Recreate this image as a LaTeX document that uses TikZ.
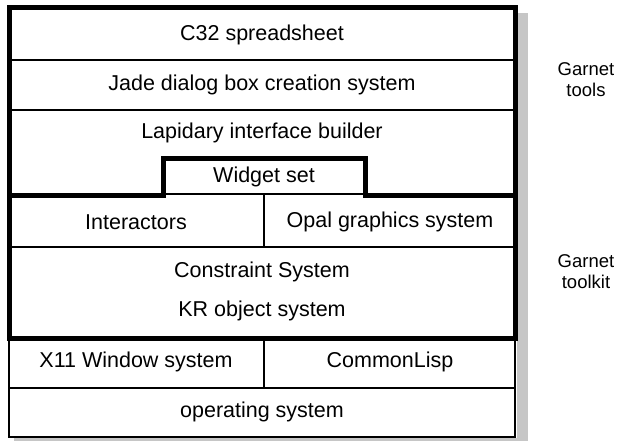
\documentclass[tikz,border=0pt]{standalone}
\usepackage{fontspec}
\setmainfont{Liberation Sans}

\begin{document}
\begin{tikzpicture}[x=1pt,y=-1pt,font=\fontsize{21.5}{22}\selectfont]
\tikzset{thin rule/.style={line width=1.5pt},
  heavy rule/.style={line width=5pt},
  side label/.style={align=center,inner sep=0pt,font=\fontsize{18.5}{21}\selectfont}}
\useasboundingbox (0,0) rectangle (617,441);
% shadow
\fill[gray!45] (517,13) rectangle (528,441);
\fill[gray!45] (14,438) rectangle (528,441);
% Garnet tools
\draw[thin rule] (9,60) -- (515,60);
\draw[thin rule] (9,110) -- (515,110);
\draw[thin rule] (163,194) -- (365,194);
% Garnet toolkit
\draw[thin rule] (264,195) -- (264,247);
\draw[thin rule] (9,247) -- (515,247);
% base
\draw[thin rule] (264,338) -- (264,388);
\draw[thin rule] (9,388) -- (515,388);
\draw[line width=2pt] (9,338) rectangle (515,437);
% heavy frame
\draw[heavy rule] (9,195) -- (163,195) -- (163,158) -- (365,158) -- (365,195) -- (515,195);
\draw[heavy rule] (9,8) rectangle (515,338);
% texts
\node (c32) at (262,35) {C32 spreadsheet};
\node (jade) at (262,85) {Jade dialog box creation system};
\node (lapidary) at (262,133) {Lapidary interface builder};
\node (widgets) at (264,177) {Widget set};
\node (interactors) at (136,222) {Interactors};
\node (opal) at (390,222) {Opal graphics system};
\node (constraint) at (262,272) {Constraint System};
\node (kr) at (262,311) {KR object system};
\node (x11) at (136,362) {X11 Window system};
\node (lisp) at (390,362) {CommonLisp};
\node (os) at (262,412) {operating system};
\node[side label] (tools) at (586,80) {Garnet\\tools};
\node[side label] (toolkit) at (586,272) {Garnet\\toolkit};
\end{tikzpicture}
\end{document}
